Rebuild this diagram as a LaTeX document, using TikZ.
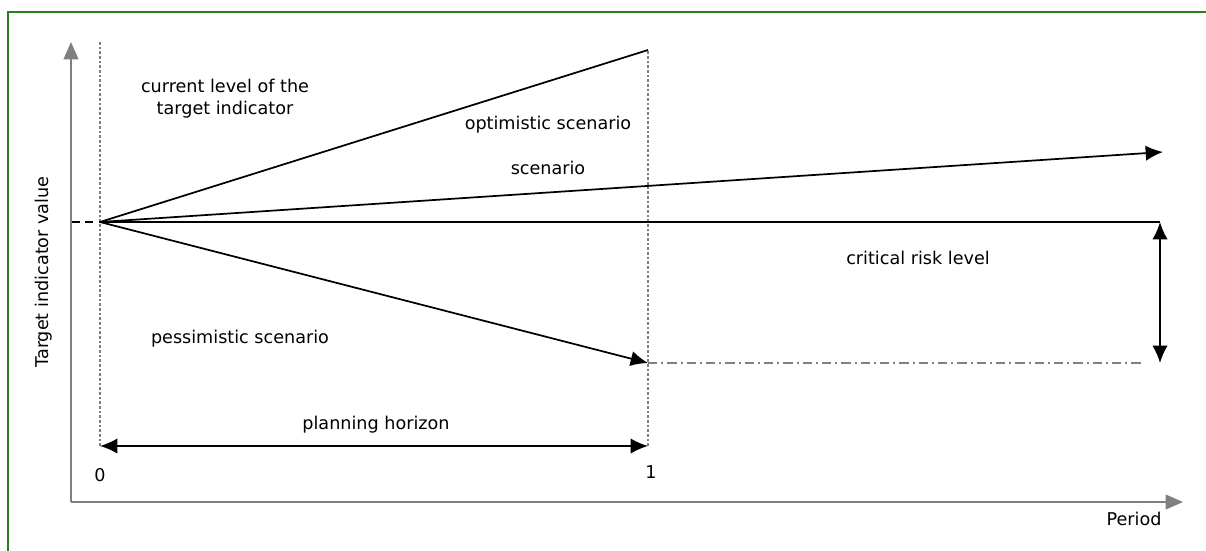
\documentclass[tikz,border=0pt]{standalone}
\usepackage{fontspec}
\setmainfont{DejaVu Sans}
\usetikzlibrary{arrows.meta}

\definecolor{framegreen}{RGB}{38,128,30}
\definecolor{axisgray}{RGB}{128,128,128}

\begin{document}
\begin{tikzpicture}[x=0.75pt, y=-0.75pt]
\tikzset{ >={Latex[length=13pt,width=11.5pt]}, inner sep=0pt, outer sep=0pt,
  font=\fontsize{13.2}{16.5}\selectfont,
  axis/.style={axisgray, line width=1.5pt, -{Triangle[length=13pt,width=11pt]}},
  guide/.style={axisgray, line width=1.2pt, dash pattern=on 2pt off 1.5pt},
  curve/.style={black, line width=1.3pt},
}

\useasboundingbox (0,0) rectangle (1206,550);

% outer frame, runs off the page on the right and bottom
\begin{scope}
\clip (0,0) rectangle (1206,550);
\draw [framegreen, line width=1.5pt] (7.5,12) rectangle (1230,580);
\end{scope}

\coordinate (Org)  at (71,502);
\coordinate (Ytip) at (71,42);
\coordinate (Xtip) at (1183,502);

\coordinate (O)    at (100,222);
\coordinate (Ob)   at (72,222);
\coordinate (Opt)  at (648,50);
\coordinate (Scn)  at (1163,152);
\coordinate (Crt)  at (1160,222);
\coordinate (Pes)  at (648,363);
\coordinate (Pend) at (1143,363);
\coordinate (Rbot) at (1160,363);

\coordinate (T0)   at (100,446);
\coordinate (T1)   at (648,446);
\coordinate (T0up) at (100,42);
\coordinate (T1up) at (648,50);

% axes
\draw [axis] (Org) -- (Ytip);
\draw [axis] (Org) -- (Xtip);

% period marks
\draw [guide] (T0) -- (T0up);
\draw [guide] (T1) -- (T1up);

% scenarios
\draw [curve, dash pattern=on 6pt off 4pt] (Ob) -- (O);
\draw [curve] (O) -- (Opt);
\draw [curve, ->] (O) -- (Scn);
\draw [curve] (O) -- (Crt);
\draw [curve, ->] (O) -- (Pes);
\draw [axisgray, line width=1pt, dash pattern=on 7pt off 3pt on 1.5pt off 3pt] (Pes) -- (Pend);

\draw [curve, <->] (Crt) -- (Rbot);
\draw [curve, <->] (T0) -- (T1);

% labels
\node [align=center] (lcur) at (225,99) {current level of the\\target indicator};
\node (lopt) at (548,125) {optimistic scenario};
\node (lscn) at (548,168) {scenario};
\node (lcrt) at (918,258) {critical risk level};
\node (lpes) at (240,339) {pessimistic scenario};
\node (lhor) at (376,425) {planning horizon};
\node (l0)   at (100,475) {0};
\node (l1)   at (651,472) {1};
\node (lper) at (1134,519) {Period};
\node [rotate=90] (lval) at (44,272) {Target indicator value};
\end{tikzpicture}
\end{document}
